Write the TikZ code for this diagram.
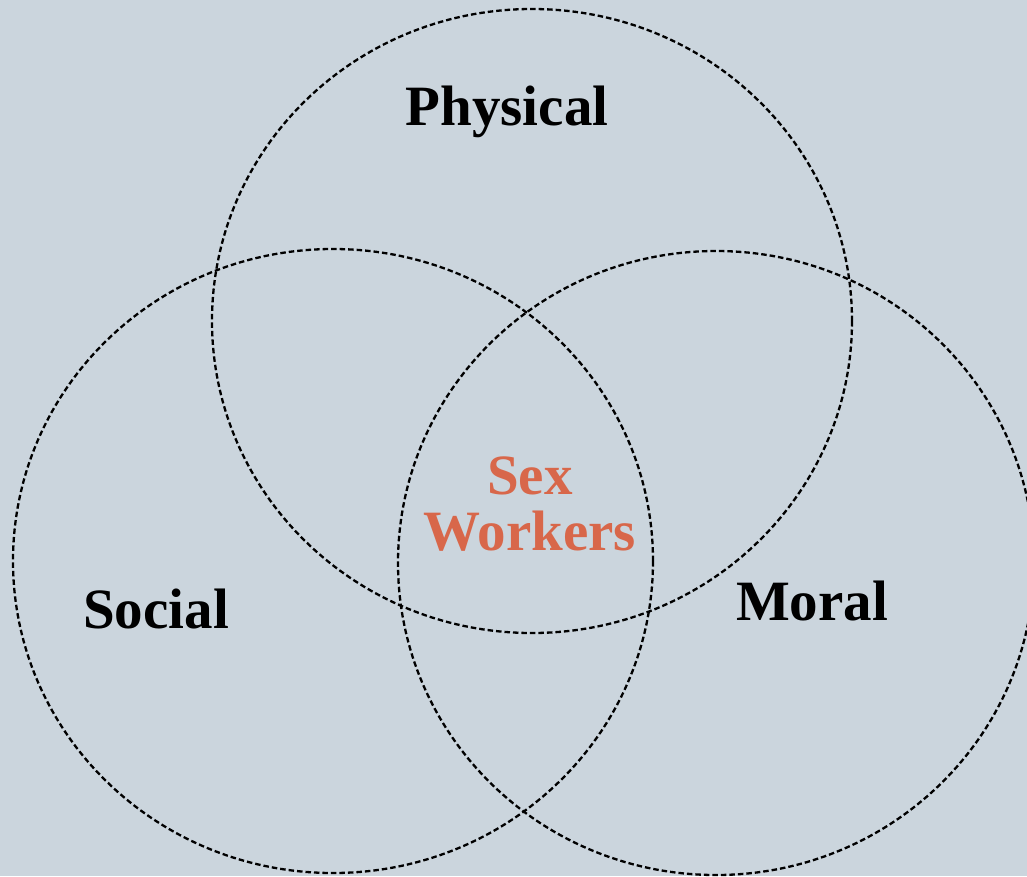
\documentclass[tikz,border=0pt]{standalone}
\usepackage{fontspec}
\setmainfont{Liberation Serif}
\definecolor{bgcol}{HTML}{CBD5DD}
\definecolor{swcol}{HTML}{D8674A}
\begin{document}
\begin{tikzpicture}[x=1pt,y=-1pt,
  venn/.style={draw=black,line width=2.3pt,dash pattern=on 5.5pt off 3pt},
  lab/.style={font=\fontsize{57}{59}\selectfont\bfseries,anchor=base,inner sep=0pt}]
\fill[bgcol] (0,0) rectangle (1027,876);
\useasboundingbox (0,0) rectangle (1027,876);
\begin{scope}
\clip (0,0) rectangle (1027,876);
\draw[venn] (532,321) ellipse [x radius=320, y radius=312];
\draw[venn] (333,561) ellipse [x radius=320, y radius=312];
\draw[venn] (716,563) ellipse [x radius=318, y radius=312];
\end{scope}
\node[lab] (tphys) at (507,125) {Physical};
\node[lab] (tsoc) at (156,628) {Social};
\node[lab] (tmor) at (812,620) {Moral};
\node[lab,text=swcol] (tsex) at (530,494) {Sex};
\node[lab,text=swcol] (twork) at (530,550) {Workers};
\end{tikzpicture}
\end{document}
